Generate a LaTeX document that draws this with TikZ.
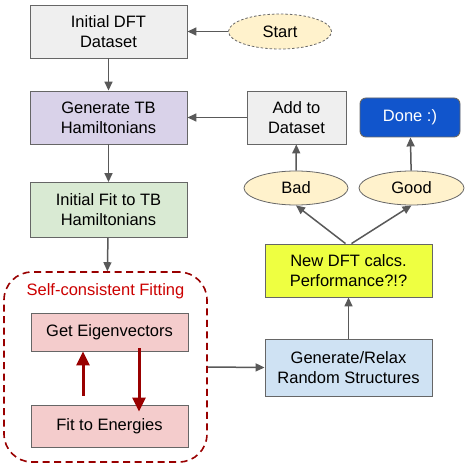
\documentclass[tikz,border=0pt]{standalone}
\usepackage{fontspec}
\setmainfont{Liberation Sans}
\usetikzlibrary{shapes.geometric,arrows.meta}
\definecolor{bordergray}{HTML}{666666}
\definecolor{arrowgray}{HTML}{595959}
\definecolor{fgray}{HTML}{EFEFEF}
\definecolor{fpurple}{HTML}{D9D2E9}
\definecolor{fgreen}{HTML}{D9EAD3}
\definecolor{fblue}{HTML}{CFE2F3}
\definecolor{fyellow}{HTML}{EEFF41}
\definecolor{fcream}{HTML}{FFF2CC}
\definecolor{fpink}{HTML}{F4CCCC}
\definecolor{donefill}{HTML}{1155CC}
\definecolor{darkred}{HTML}{990000}
\definecolor{labelred}{HTML}{CC0000}
\begin{document}
\begin{tikzpicture}[x=1pt,y=-1pt,
  every node/.style={font=\fontsize{16.5}{20}\selectfont, align=center, inner sep=0pt},
  box/.style={draw=bordergray, line width=0.9pt, rectangle},
  oval/.style={draw=bordergray, line width=0.8pt, ellipse, fill=fcream},
  conn/.style={draw=arrowgray, line width=1.5pt, -{Triangle[length=9pt,width=8pt]}},
  redconn/.style={draw=darkred, line width=3pt, -{Triangle[length=14pt,width=13pt]}}
]
\useasboundingbox (0,0) rectangle (471,465);
\fill[white] (0,0) rectangle (471,465);

\node[box, fill=fgray, minimum width=157pt, minimum height=53pt] (dft) at (108.5,31.5) {Initial DFT\\Dataset};
\node[box, fill=fpurple, minimum width=157pt, minimum height=53pt] (gentb) at (108.5,117.5) {Generate TB\\Hamiltonians};
\node[box, fill=fgreen, minimum width=157pt, minimum height=55pt] (initfit) at (108.5,210) {Initial Fit to TB\\Hamiltonians};

\node[oval, dashed, dash pattern=on 2.5pt off 2pt, minimum width=103pt, minimum height=35pt] (start) at (280,31.5) {Start};

\node[box, fill=fgray, minimum width=99pt, minimum height=53pt] (add) at (296.5,117.5) {Add to\\Dataset};
\node[draw=bordergray, line width=0.9pt, rounded corners=6pt, fill=donefill, text=white, minimum width=100pt, minimum height=39pt] (done) at (410,117.5) {Done :)};

\node[oval, minimum width=104pt, minimum height=34pt] (bad) at (296,188) {Bad};
\node[oval, minimum width=105pt, minimum height=34pt] (good) at (411.5,188) {Good};

\node[box, fill=fyellow, minimum width=167pt, minimum height=53pt] (newdft) at (348.5,270.5) {New DFT calcs.\\Performance?!?};
\node[box, fill=fblue, minimum width=167pt, minimum height=57pt] (relax) at (348.5,367.5) {Generate/Relax\\Random Structures};

\node[draw=darkred, line width=1.6pt, dash pattern=on 7pt off 4.5pt, rounded corners=28pt, minimum width=203pt, minimum height=190pt] (scf) at (105.5,367) {};
\node[text=labelred] (scflabel) at (105.5,291) {Self-consistent Fitting};
\node[box, fill=fpink, minimum width=157pt, minimum height=38pt] (eig) at (109.5,332) {Get Eigenvectors};
\node[box, fill=fpink, minimum width=157pt, minimum height=42pt] (fit) at (109.5,426) {Fit to Energies};

\draw[conn] (start) -- (dft);
\draw[conn] (dft) -- (gentb);
\draw[conn] (gentb) -- (initfit);
\draw[conn] (initfit) -- (scf);
\draw[conn] (add) -- (gentb);
\draw[conn] (scf.east) -- (relax.west);
\draw[conn] (relax) -- (newdft);
\draw[conn] ([xshift=-3pt]newdft.north) -- (bad.south);
\draw[conn] ([xshift=3pt]newdft.north) -- (good.south);
\draw[conn] (bad) -- (add);
\draw[conn] (good) -- (done);
\draw[redconn] (fit.north -| 83,0) ++(0,-9) coordinate (upstart) (upstart) -- (eig.south -| 83,0);
\draw[redconn] ([yshift=3pt]eig.south -| 139,0) -- ([yshift=-7pt]fit.north -| 139,0);
\end{tikzpicture}
\end{document}
